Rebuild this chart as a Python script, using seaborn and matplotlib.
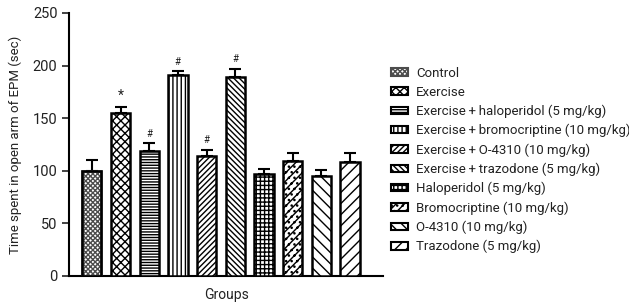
import numpy as np
import pandas as pd
import matplotlib
matplotlib.use('Agg')
import matplotlib.pyplot as plt
from matplotlib.patches import Patch, Rectangle
import seaborn as sns

groups = ['Control', 'Exercise', 'Exercise\u2009+\u2009haloperidol (5 mg/kg)',
          'Exercise\u2009+\u2009bromocriptine (10 mg/kg)', 'Exercise\u2009+\u2009O-4310 (10 mg/kg)',
          'Exercise\u2009+\u2009trazodone (5 mg/kg)', 'Haloperidol (5 mg/kg)',
          'Bromocriptine (10 mg/kg)', 'O-4310 (10 mg/kg)', 'Trazodone (5 mg/kg)']
means = [100, 155, 119, 191, 114, 189, 97, 109, 95, 108]
sems = [10, 6, 7, 4, 6, 8, 5, 8, 6, 9]
marks = ['', '*', '#', '#', '#', '#', '', '', '', '']
hatches = ['xxxxxxx', 'xxxx', '------', '||||', '//////', '\\\\\\\\\\\\',
           '++++', '////...', '\\\\\\', '///']

sns.set_style('white')
plt.rcParams['font.family'] = ['Roboto', 'DejaVu Sans']
plt.rcParams['hatch.linewidth'] = 1.0

df = pd.DataFrame({'group': groups, 'time': means})

fig = plt.figure(figsize=(6.29, 3.07), dpi=100)
ax = fig.add_axes([0.110, 0.101, 0.499, 0.857])

sns.barplot(data=df, x='group', y='time', order=groups, color='white',
            edgecolor='black', linewidth=1.8, width=0.67, errorbar=None, ax=ax)

for i, (p, h) in enumerate(zip(ax.patches, hatches)):
    p.set_hatch(h)
    p.set_edgecolor('black')
    p.set_zorder(3)
    if i == 0:
        # grey fine check for the control bar, black outline on top
        p.set_edgecolor('0.3')
        ax.add_patch(Rectangle(p.get_xy(), p.get_width(), p.get_height(),
                               fill=False, edgecolor='black', linewidth=1.8, zorder=4))

x = np.arange(len(groups))
ax.errorbar(x, means, yerr=[np.zeros(len(sems)), sems], fmt='none',
            ecolor='black', elinewidth=1.5, capsize=4, capthick=1.5, zorder=2)

for xi, m, s, t in zip(x, means, sems, marks):
    if t:
        ax.text(xi, m + s + 4, t, ha='center', va='bottom',
                fontsize=10 if t == '*' else 7, color='#222222')

ax.set_xlim(-0.79, 10.15)
ax.set_ylim(0, 250)
ax.set_yticks([0, 50, 100, 150, 200, 250])
ax.set_xticks([])
ax.set_xlabel('Groups', fontsize=10, color='#222222', labelpad=9)
ax.set_ylabel('Time spent in open arm of EPM (sec)', fontsize=9.5, color='#222222',
              labelpad=8)
ax.tick_params(axis='y', direction='out', length=5, width=1.2, left=True,
               labelsize=10.5, colors='#222222')
sns.despine(ax=ax)
for s in ['left', 'bottom']:
    ax.spines[s].set_linewidth(1.5)
    ax.spines[s].set_color('black')

handles = [Patch(facecolor='white', edgecolor='black', hatch=h, linewidth=1.5)
           for h in hatches]
handles[0] = Patch(facecolor='white', edgecolor='0.3', hatch=hatches[0], linewidth=1.5)
fig.legend(handles, groups, loc='upper left', bbox_to_anchor=(0.613, 0.80),
           frameon=False, fontsize=9.5, handlelength=1.3, handleheight=0.5,
           handletextpad=0.6, labelspacing=0.45, borderaxespad=0,
           labelcolor='#222222')

fig.savefig('out.png', dpi=100)
